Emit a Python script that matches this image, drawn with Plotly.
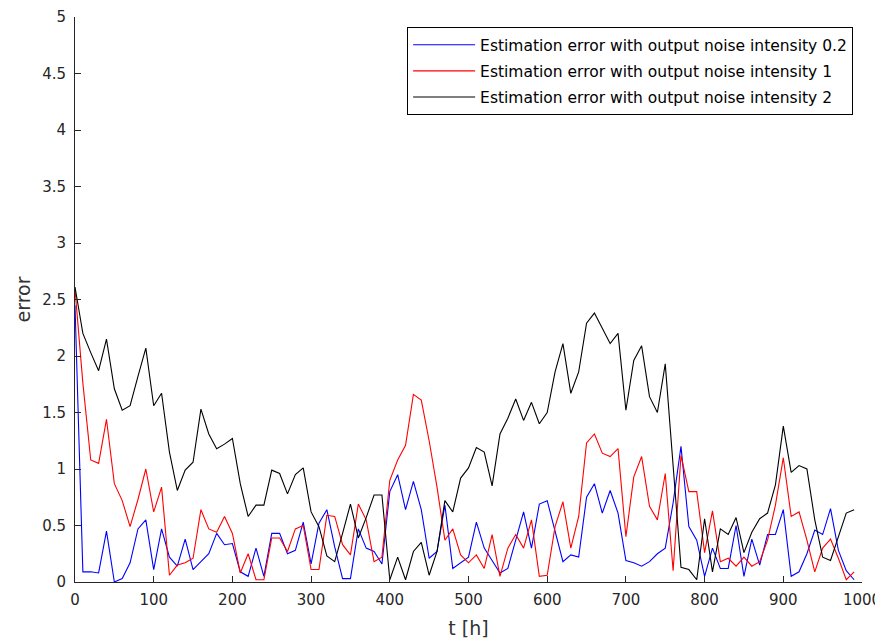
import plotly.graph_objects as go

t = list(range(0, 1000, 10))

err_02 = [2.45, 0.09, 0.09, 0.08, 0.45, 0.00, 0.03, 0.17, 0.47, 0.55,
          0.11, 0.47, 0.22, 0.14, 0.38, 0.11, 0.18, 0.25, 0.43, 0.33,
          0.34, 0.09, 0.05, 0.30, 0.05, 0.43, 0.43, 0.25, 0.28, 0.53,
          0.16, 0.52, 0.64, 0.31, 0.03, 0.03, 0.47, 0.30, 0.27, 0.16,
          0.80, 0.95, 0.64, 0.89, 0.64, 0.21, 0.27, 0.68, 0.12, 0.17,
          0.22, 0.53, 0.30, 0.19, 0.08, 0.12, 0.37, 0.62, 0.30, 0.69,
          0.72, 0.46, 0.18, 0.24, 0.22, 0.75, 0.87, 0.61, 0.81, 0.61,
          0.19, 0.17, 0.14, 0.18, 0.25, 0.30, 0.70, 1.20, 0.49, 0.37,
          0.05, 0.30, 0.12, 0.12, 0.50, 0.05, 0.38, 0.15, 0.42, 0.42,
          0.64, 0.05, 0.09, 0.25, 0.46, 0.42, 0.65, 0.28, 0.10, 0.02]

err_1 = [2.59, 1.76, 1.08, 1.05, 1.44, 0.87, 0.72, 0.49, 0.73, 1.00,
         0.62, 0.84, 0.06, 0.15, 0.17, 0.21, 0.64, 0.47, 0.44, 0.58,
         0.43, 0.08, 0.25, 0.02, 0.02, 0.39, 0.39, 0.27, 0.47, 0.50,
         0.11, 0.11, 0.59, 0.58, 0.33, 0.24, 0.69, 0.55, 0.18, 0.22,
         0.90, 1.08, 1.21, 1.66, 1.61, 1.25, 0.84, 0.37, 0.47, 0.24,
         0.17, 0.24, 0.12, 0.42, 0.05, 0.30, 0.42, 0.30, 0.55, 0.05,
         0.06, 0.49, 0.71, 0.30, 0.58, 1.23, 1.31, 1.14, 1.11, 1.18,
         0.40, 0.93, 1.11, 0.67, 0.55, 0.96, 0.10, 1.12, 0.80, 0.80,
         0.26, 0.63, 0.18, 0.21, 0.14, 0.22, 0.14, 0.18, 0.37, 0.68,
         1.10, 0.58, 0.62, 0.37, 0.09, 0.30, 0.38, 0.21, 0.02, 0.09]

err_2 = [2.61, 2.20, 2.03, 1.87, 2.15, 1.71, 1.52, 1.56, 1.82, 2.07,
         1.56, 1.67, 1.15, 0.81, 0.99, 1.06, 1.53, 1.31, 1.18, 1.22,
         1.27, 0.87, 0.58, 0.68, 0.68, 0.99, 0.96, 0.78, 0.95, 1.01,
         0.62, 0.49, 0.23, 0.18, 0.43, 0.69, 0.39, 0.57, 0.77, 0.77,
         0.02, 0.22, 0.02, 0.27, 0.35, 0.06, 0.27, 0.72, 0.62, 0.92,
         1.01, 1.19, 1.15, 0.85, 1.31, 1.45, 1.62, 1.43, 1.59, 1.40,
         1.50, 1.86, 2.11, 1.67, 1.86, 2.29, 2.38, 2.24, 2.11, 2.20,
         1.52, 1.96, 2.09, 1.64, 1.50, 1.93, 1.05, 0.13, 0.11, 0.02,
         0.56, 0.09, 0.47, 0.42, 0.57, 0.26, 0.44, 0.56, 0.61, 0.86,
         1.38, 0.97, 1.03, 1.00, 0.55, 0.22, 0.19, 0.39, 0.61, 0.64]

names = ["Estimation error with output noise intensity 0.2",
         "Estimation error with output noise intensity 1",
         "Estimation error with output noise intensity 2"]
colors = ["#0000ff", "#ff0000", "#000000"]

x_ticks = list(range(0, 1001, 100))
y_ticks = [0, 0.5, 1, 1.5, 2, 2.5, 3, 3.5, 4, 4.5, 5]
y_ticklabels = ["0", "0.5", "1", "1.5", "2", "2.5", "3", "3.5", "4", "4.5", "5"]

fig = go.Figure()
for i, (ys, nm, c) in enumerate(zip([err_02, err_1, err_2], names, colors)):
    fig.add_trace(go.Scatter(x=t, y=ys, mode="lines", name=nm,
                             legendgroup="g%d" % i,
                             line=dict(color=c, width=1.1)))

font_fam = "DejaVu Sans, Verdana, sans-serif"
axis_color = "#262626"

# the page body adds an 8px offset, so the figure is sized to fit the window
fig.update_layout(
    width=875, height=636,
    margin=dict(l=67, r=21, t=9, b=62),
    paper_bgcolor="white", plot_bgcolor="white",
    font=dict(family=font_fam, color=axis_color, size=15),
    showlegend=True,
    legend=dict(x=0.422, y=0.982, xanchor="left", yanchor="top",
                bgcolor="white", bordercolor="#000000", borderwidth=1,
                font=dict(size=15.5, color="#000000"),
                traceorder="grouped", tracegroupgap=3, itemwidth=62),
)
fig.update_xaxes(range=[0, 1000], tickvals=x_ticks, ticks="inside", ticklen=6,
                 tickcolor=axis_color, showline=True, linecolor=axis_color,
                 linewidth=1, showgrid=False, zeroline=False, mirror=False,
                 automargin=False, ticklabelstandoff=4,
                 tickfont=dict(size=15, color=axis_color),
                 title=dict(text="t [h]", font=dict(size=19, color="#333333"),
                            standoff=13))
fig.update_yaxes(range=[0, 5], tickvals=y_ticks, ticktext=y_ticklabels,
                 ticks="inside", ticklen=6,
                 tickcolor=axis_color, showline=True, linecolor=axis_color,
                 linewidth=1, showgrid=False, zeroline=False, mirror=False,
                 automargin=False, ticklabelstandoff=5,
                 tickfont=dict(size=15, color=axis_color),
                 title=dict(text="error", font=dict(size=19, color="#333333"),
                            standoff=6))

fig.write_html("out.html")
